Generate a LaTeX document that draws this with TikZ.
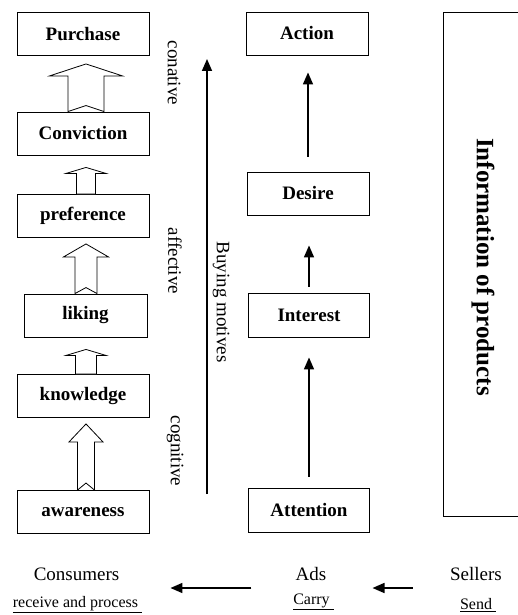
\documentclass[tikz,border=0pt]{standalone}
\usepackage{fontspec}
\setmainfont{Liberation Serif}
\usetikzlibrary{arrows.meta,calc}

\begin{document}
\begin{tikzpicture}[x=1pt,y=-1pt,
    box/.style={draw,line width=0.9pt,inner sep=0pt,minimum width=132pt,minimum height=43pt,
        font=\bfseries\fontsize{19}{22}\selectfont},
    blockarr/.style={draw,line width=0.8pt,fill=white},
    flow/.style={line width=1.6pt,-{Triangle[length=12pt,width=10pt]}},
    stage/.style={rotate=-90,font=\fontsize{19}{22}\selectfont},
    role/.style={inner sep=0pt,font=\fontsize{19}{22}\selectfont},
    task/.style={inner sep=0pt,font=\fontsize{16}{19}\selectfont}]
    \useasboundingbox (0,0) rectangle (518,615);

    % consumer side: hierarchy of effects
    \node[box] (purch) at (83,34) {Purchase};
    \node[box] (conv) at (83,133.5) {Conviction};
    \node[box] (pref) at (83,216) {preference};
    \node[box,minimum width=123pt] (lik) at (85.5,315.5) {liking};
    \node[box] (know) at (83,396) {knowledge};
    \node[box] (aware) at (83,512) {awareness};
    \foreach \lo/\up/\sw/\hw/\hl/\gap/\notch in
        {conv/purch/18/36.5/12/8/6, pref/conv/9.5/20/6/12/0, lik/pref/11/22.5/13/6/6,
         know/lik/10.5/20/6/12/0, aware/know/8.5/17/18/6/7}
    {
        \draw[blockarr] let \p1=([xshift=3pt]aware.north |- \lo.north),
            \p2=([xshift=3pt,yshift=-\gap pt]aware.north |- \up.south) in
            (\x1-\sw pt,\y1) -- (\x1-\sw pt,\y2-\hl pt) -- (\x1-\hw pt,\y2-\hl pt) -- (\x1,\y2)
            -- (\x1+\hw pt,\y2-\hl pt) -- (\x1+\sw pt,\y2-\hl pt) -- (\x1+\sw pt,\y1)
            -- (\x1,\y1+\notch pt) -- cycle;
    }
    \node[stage] (conat) at (174,73) {conative};
    \node[stage] (affect) at (175,261) {affective};
    \node[stage] (cognit) at (175,451) {cognitive};

    % buying motives
    \coordinate (mlow) at (207,494);
    \coordinate (mtop) at (207,59);
    \draw[flow] (mlow) -- (mtop);
    \node[stage] (motive) at (221,302) {Buying motives};

    % AIDA
    \node[box,minimum width=122pt] (action) at (307,33.5) {Action};
    \node[box,minimum width=122pt] (desire) at (308,193.5) {Desire};
    \node[box,minimum width=121pt,minimum height=44pt] (interest) at (309,315) {Interest};
    \node[box,minimum width=121pt,minimum height=44pt] (attention) at (309,510) {Attention};
    \foreach \a/\b/\s/\e in {desire/action/15/17, interest/desire/6/30, attention/interest/11/20}
        \draw[flow,shorten <=\s pt,shorten >=\e pt] (\a.north) -- (\a.north |- \b.south);

    % information
    \draw[line width=0.9pt] (518,12) -| (443,516) -- (518,516);
    \node[rotate=-90,font=\bfseries\fontsize{25}{30}\selectfont] (info) at (483,267) {Information of products};

    % who does what
    \node[role] (cons) at (76.5,574) {Consumers};
    \node[role] (ads) at (311,574) {Ads};
    \node[role] (sell) at (476,574) {Sellers};
    \node[task] (recv) at (77.5,605) {\underline{receive and process\ }};
    \node[task] (carry) at (313.5,602) {\underline{Carry\ }};
    \node[task] (send) at (478,605) {\underline{Send\ }};
    \draw[flow] ([xshift=-44pt,yshift=-14pt]ads.west) -- ([xshift=51pt,yshift=-14pt]cons.east);
    \draw[flow] ([xshift=-37pt,yshift=-14pt]sell.west) -- ([xshift=46pt,yshift=-14pt]ads.east);
\end{tikzpicture}
\end{document}
